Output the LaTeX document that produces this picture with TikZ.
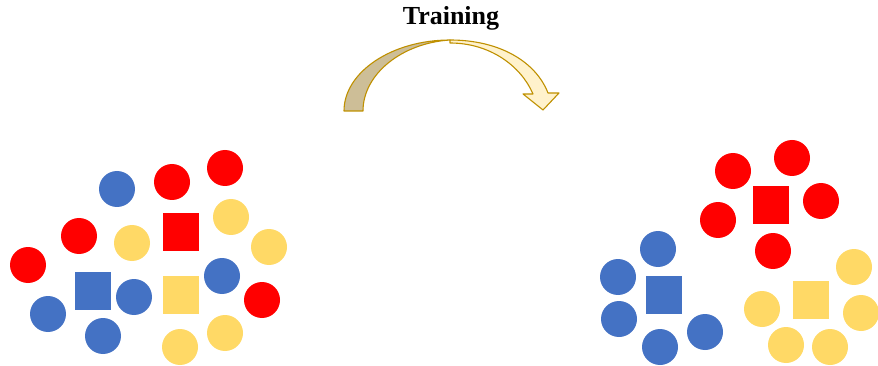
\documentclass[tikz,border=0pt]{standalone}
\usepackage{fontspec}
\setmainfont{Liberation Serif}
\definecolor{cred}{HTML}{FF0000}
\definecolor{cblue}{HTML}{4472C4}
\definecolor{cyellow}{HTML}{FFD966}
\definecolor{arrowback}{HTML}{CDBE97}
\definecolor{arrowfront}{HTML}{FFF2CC}
\definecolor{arrowedge}{HTML}{BF9000}
\begin{document}
\begin{tikzpicture}[x=1pt,y=-1pt,
  dot/.style={circle,inner sep=0pt,minimum size=36pt,draw=none},
  box/.style={rectangle,inner sep=0pt,minimum width=36pt,minimum height=38pt,draw=none},
  rdot/.style={dot,fill=cred}, bdot/.style={dot,fill=cblue}, ydot/.style={dot,fill=cyellow},
  rbox/.style={box,fill=cred}, bbox/.style={box,fill=cblue}, ybox/.style={box,fill=cyellow},
  arrowpart/.style={draw=arrowedge,line width=1.1pt,line join=round}]
\useasboundingbox (0,0) rectangle (878,366);

% title
\node[anchor=base,font=\fontsize{26}{26}\selectfont\bfseries] (title) at (451,25) {Training};

% curved arrow: back (shaded) part and front part with head
\fill[arrowback,arrowpart] (344,111) .. controls (344,72) and (392,40) .. (450,40)
  .. controls (402,43) and (363,74) .. (363,111) -- cycle;
\fill[arrowfront,arrowpart] (450,40) .. controls (500,40) and (536,62) .. (548,93)
  -- (559,93) -- (543,110) -- (523,94) -- (533,94)
  .. controls (521,66) and (490,43) .. (450,43) -- cycle;

% mixed points before training
\node[bdot] (l1) at (117,189) {};
\node[rdot] (l2) at (172,182) {};
\node[rdot] (l3) at (225,168) {};
\node[rbox] (l4) at (181,232) {};
\node[ydot] (l5) at (231,217) {};
\node[rdot] (l6) at (79,236) {};
\node[ydot] (l7) at (132,243) {};
\node[ydot] (l8) at (269,247) {};
\node[rdot] (l9) at (28,265) {};
\node[bbox] (l10) at (93,291) {};
\node[bdot] (l11) at (134,297) {};
\node[ybox] (l12) at (181,295) {};
\node[bdot] (l13) at (222,276) {};
\node[rdot] (l14) at (262,300) {};
\node[bdot] (l15) at (48,314) {};
\node[bdot] (l16) at (103,336) {};
\node[ydot] (l17) at (180,347) {};
\node[ydot] (l18) at (225,333) {};

% clustered points after training
\node[rdot] (r1) at (733,171) {};
\node[rdot] (r2) at (792,158) {};
\node[rbox] (r3) at (771,205) {};
\node[rdot] (r4) at (821,201) {};
\node[rdot] (r5) at (718,220) {};
\node[rdot] (r6) at (773,251) {};
\node[bdot] (r7) at (658,249) {};
\node[bdot] (r8) at (618,277) {};
\node[bbox] (r9) at (664,295) {};
\node[bdot] (r10) at (619,319) {};
\node[bdot] (r11) at (705,332) {};
\node[bdot] (r12) at (660,347) {};
\node[ydot] (r13) at (854,267) {};
\node[ybox] (r14) at (811,300) {};
\node[ydot] (r15) at (762,309) {};
\node[ydot] (r16) at (861,313) {};
\node[ydot] (r17) at (786,345) {};
\node[ydot] (r18) at (830,347) {};
\end{tikzpicture}
\end{document}
